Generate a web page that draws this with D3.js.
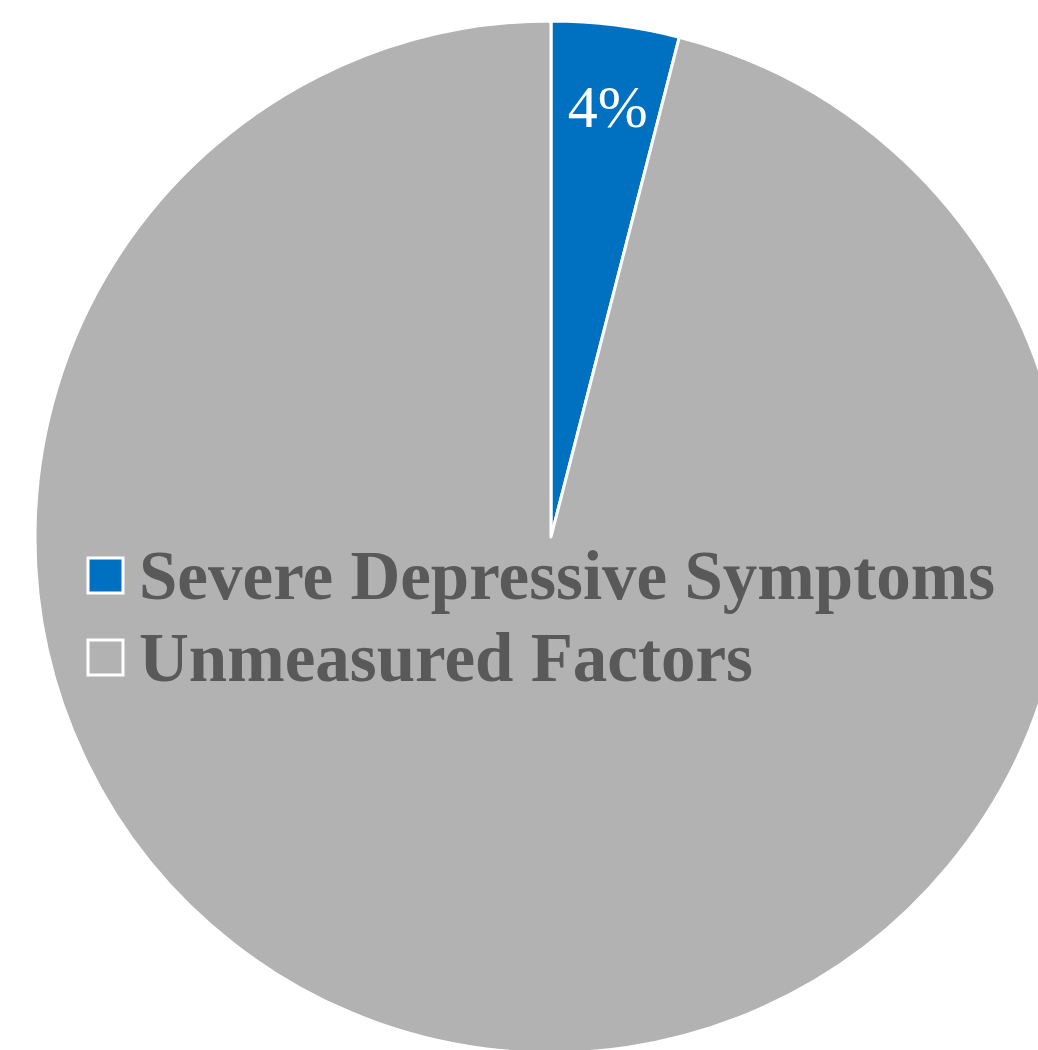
<!DOCTYPE html>
<html>
<head>
<meta charset="utf-8">
<script src="https://cdn.jsdelivr.net/npm/d3@7"></script>
<style>
  html, body { margin: 0; padding: 0; background: #fff; }
  svg { display: block; }
</style>
</head>
<body>
<svg width="1038" height="1050"></svg>
<script>
// slices, clockwise from 12 o'clock
const categories = ['Severe Depressive Symptoms', 'Unmeasured Factors'];
const values = [4, 96];
const colors = ['#0070C0', '#B2B2B2'];
const pctLabels = ['4%', ''];

const svg = d3.select('svg');
const cx = 551, cy = 537, r = 516;

const pie = d3.pie().sort(null).value((d) => d.value);
const arcData = pie(categories.map((c, i) => ({ name: c, value: values[i], color: colors[i], label: pctLabels[i] })));
const arc = d3.arc().innerRadius(0).outerRadius(r);

const g = svg.append('g').attr('transform', `translate(${cx},${cy})`);
g.selectAll('path')
  .data(arcData)
  .join('path')
  .attr('d', arc)
  .style('fill', (d) => d.data.color)
  .style('stroke', '#fff')
  .style('stroke-width', 3)
  .style('stroke-linejoin', 'round');

// data label inside the small slice, near the rim
const labelArc = d3.arc().innerRadius(r * 0.8).outerRadius(r * 0.8);
g.selectAll('text.pct')
  .data(arcData.filter((d) => d.data.label))
  .join('text')
  .attr('class', 'pct')
  .each(function(d) {
    const [x, y] = labelArc.centroid(d);
    d3.select(this).attr('x', x + 5).attr('y', y);
  })
  .attr('text-anchor', 'middle')
  .style('font-family', '"Liberation Serif", "Times New Roman", "DejaVu Serif", serif')
  .style('font-size', '60px')
  .style('fill', '#fff')
  .text((d) => d.data.label);

// legend sits on top of the pie
const legend = svg.append('g').attr('transform', 'translate(88,558)');
const row = legend.selectAll('g')
  .data(categories)
  .join('g')
  .attr('transform', (d, i) => `translate(0,${i * 82})`);
row.append('rect')
  .attr('x', 0).attr('y', 0)
  .attr('width', 35).attr('height', 35)
  .style('fill', (d, i) => colors[i])
  .style('stroke', '#fff')
  .style('stroke-width', 3);
row.append('text')
  .attr('x', 51)
  .attr('y', 41)
  .style('font-family', '"Liberation Serif", "Times New Roman", "DejaVu Serif", serif')
  .style('font-weight', 'bold')
  .style('font-size', '69px')
  .style('fill', '#595959')
  .text((d) => d);
</script>
</body>
</html>
